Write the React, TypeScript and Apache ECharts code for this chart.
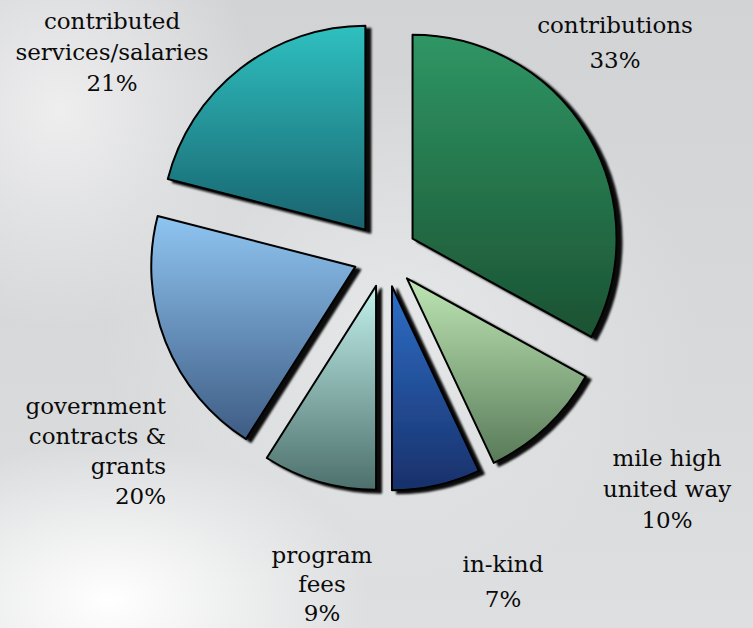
import React, { useEffect, useRef } from "react";
import * as echarts from "echarts";

// ---- data ----
const categories = [
  "contributions",
  "mile high\nunited way",
  "in-kind",
  "program\nfees",
  "government\ncontracts &\ngrants",
  "contributed\nservices/salaries",
];
const shares = [33, 10, 7, 9, 20, 21];

// ---- styles ----
const topColors = ["#2f9664", "#bee6b4", "#2e6fc8", "#c2f1ec", "#8fc5f1", "#2fc0c0"];
const bottomColors = ["#1b5232", "#587a58", "#18306a", "#4d706c", "#3e5c84", "#19636e"];
const labelPos: [number, number, "left" | "center" | "right", number][] = [
  [615, 42, "center", 35],
  [667, 489, "center", 31],
  [503, 581, "center", 35],
  [322, 584, "center", 29],
  [166, 451, "right", 30],
  [112, 52, "center", 31],
];
const FONT = "'DejaVu Serif', serif";

export default function App() {
  const ref = useRef<HTMLDivElement>(null);
  useEffect(() => {
    document.body.style.margin = "0";
    const chart = echarts.init(ref.current!, undefined, { renderer: "svg" });
    const data = categories.map((name, i) => ({
      name,
      value: shares[i],
      selected: true,
      itemStyle: {
        color: new echarts.graphic.LinearGradient(0, 0, 0, 1, [
          { offset: 0, color: topColors[i] },
          { offset: 1, color: bottomColors[i] },
        ]),
      },
    }));
    const titles = categories.map((name, i) => ({
      text: `${name}\n${shares[i]}%`,
      left: labelPos[i][0],
      top: labelPos[i][1],
      padding: 0,
      itemGap: 0,
      textAlign: labelPos[i][2],
      textVerticalAlign: "middle",
      textStyle: {
        color: "#0a0a0a",
        fontFamily: FONT,
        fontSize: 23,
        fontWeight: "normal",
        lineHeight: labelPos[i][3],
      },
    }));
    chart.setOption({
      animation: false,
      textStyle: { fontFamily: FONT },
      title: titles,
      series: [
        {
          type: "pie",
          center: [385, 255],
          radius: 204,
          startAngle: 90,
          clockwise: true,
          selectedMode: "multiple",
          selectedOffset: 32,
          data,
          itemStyle: {
            borderColor: "#000",
            borderWidth: 2,
            shadowColor: "rgba(0,0,0,0.95)",
            shadowOffsetX: 5,
            shadowOffsetY: 3,
            shadowBlur: 2,
          },
          select: { itemStyle: { borderColor: "#000", borderWidth: 2 } },
          emphasis: { disabled: true },
          labelLine: { show: false },
          label: { show: false },
        },
      ],
    });
    return () => chart.dispose();
  }, []);
  return (
    <div
      style={{
        position: "fixed",
        left: 0,
        top: 0,
        width: 753,
        height: 628,
        background:
          "radial-gradient(ellipse 260px 160px at 110px 600px, #ffffff 0%, rgba(255,255,255,0) 100%)," +
          "radial-gradient(ellipse 200px 220px at 60px 110px, #eeeeef 0%, rgba(238,238,239,0) 100%)," +
          "radial-gradient(ellipse 300px 260px at 400px 330px, #e6e7e8 0%, rgba(230,231,232,0) 100%)," +
          "linear-gradient(180deg, #d2d3d5 0%, #d8d9db 60%, #dedfe0 100%)",
      }}
    >
      <div ref={ref} style={{ width: 753, height: 628 }} />
    </div>
  );
}
